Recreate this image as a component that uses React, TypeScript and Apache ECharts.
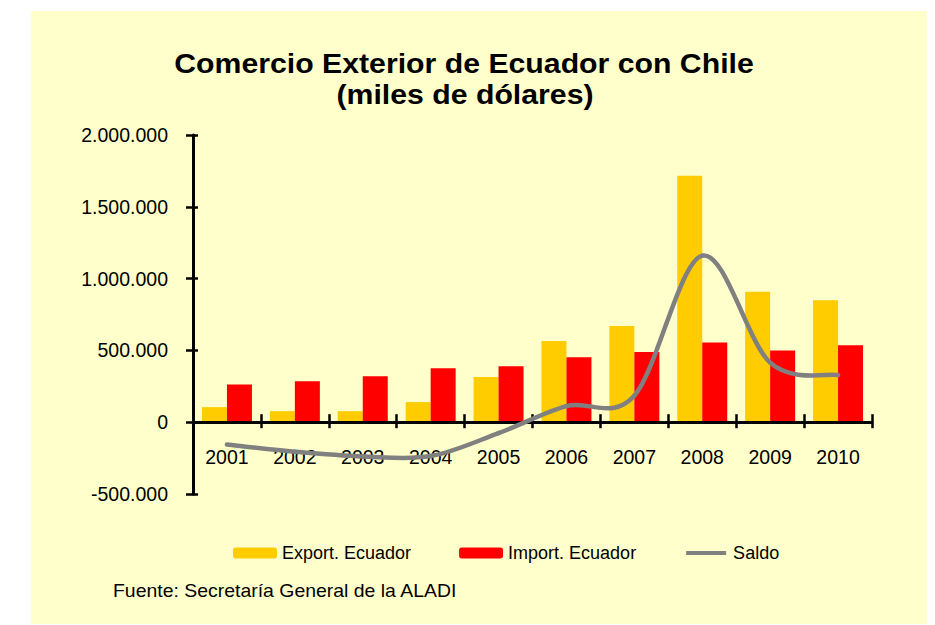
import React, { useEffect, useRef } from "react";
import * as echarts from "echarts";

const years = ["2001", "2002", "2003", "2004", "2005", "2006", "2007", "2008", "2009", "2010"];
const exportValues = [105000, 77000, 77000, 140000, 314000, 565000, 670000, 1716000, 908000, 850000];
const importValues = [263000, 286000, 320000, 376000, 390000, 453000, 488000, 555000, 500000, 535000];
const saldoValues = [-155000, -205000, -238000, -236000, -76000, 112000, 185000, 1160000, 415000, 328000];
const yMin = -500000;
const yMax = 2000000;
const yInterval = 500000;
const seriesNames = ["Export. Ecuador", "Import. Ecuador", "Saldo"];
const titleLines = ["Comercio Exterior de Ecuador con Chile", "(miles de dólares)"];
const sourceText = "Fuente: Secretaría General de la ALADI";

const FONT = '"Liberation Sans", Arial, sans-serif';

function fmt(v: number): string {
  const s = Math.abs(v).toString().replace(/\B(?=(\d{3})+(?!\d))/g, ".");
  return (v < 0 ? "-" : "") + s;
}

export default function App() {
  const ref = useRef<HTMLDivElement>(null);
  useEffect(() => {
    document.body.style.margin = "0";
    if (!ref.current) return;
    const chart = echarts.init(ref.current, undefined, { renderer: "svg" });
    const axisColor = "#000000";
    const n = saldoValues.length;
    const gridLeft = 193;
    const gridRight = 63;
    const gridTop = 135;
    const gridBottom = 131;
    // the category axis lives in a second grid whose bottom edge sits on the zero line
    const plotH = 625 - gridTop - gridBottom;
    const zeroBottom = gridBottom + (plotH * (0 - yMin)) / (yMax - yMin);

    chart.setOption({
      animation: false,
      backgroundColor: "#ffffff",
      textStyle: { fontFamily: FONT },
      graphic: [
        {
          type: "rect",
          z: -10,
          silent: true,
          shape: { x: 31, y: 11, width: 896, height: 613 },
          style: { fill: "#FFFFCC" },
        },
        {
          type: "text",
          x: 464,
          y: 64,
          scaleX: 1.12,
          style: {
            text: titleLines[0],
            font: `bold 27px ${FONT}`,
            fill: "#000",
            textAlign: "center",
            textVerticalAlign: "middle",
          },
        },
        {
          type: "text",
          x: 465,
          y: 95,
          scaleX: 1.12,
          style: {
            text: titleLines[1],
            font: `bold 27px ${FONT}`,
            fill: "#000",
            textAlign: "center",
            textVerticalAlign: "middle",
          },
        },
        {
          type: "text",
          x: 113,
          y: 591,
          scaleX: 1.08,
          style: {
            text: sourceText,
            font: `18px ${FONT}`,
            fill: "#000",
            textAlign: "left",
            textVerticalAlign: "middle",
          },
        },
      ],
      legend: {
        left: 233,
        top: 544,
        padding: 0,
        itemWidth: 44,
        itemHeight: 11,
        itemGap: 48,
        textStyle: { fontSize: 18, color: "#000", fontFamily: FONT },
        data: [
          { name: seriesNames[0] },
          { name: seriesNames[1] },
          {
            name: seriesNames[2],
            icon: "path://M0,0M44,11M2,3.5L42,3.5L42,7.5L2,7.5Z",
            itemStyle: { color: "#808080" },
          },
        ],
      },
      grid: [
        { left: gridLeft, right: gridRight, top: gridTop, bottom: gridBottom, containLabel: false },
        { left: gridLeft, right: gridRight, top: gridTop, bottom: zeroBottom, containLabel: false },
      ],
      xAxis: [
        {
          type: "category",
          gridIndex: 0,
          data: years,
          show: false,
        },
        {
          type: "category",
          gridIndex: 1,
          data: years,
          position: "bottom",
          z: 4,
          axisLine: { onZero: false, lineStyle: { color: axisColor, width: 3 } },
          axisTick: { show: true, length: 6, lineStyle: { color: axisColor, width: 2.5 } },
          axisLabel: { margin: 25, fontSize: 19.5, color: "#000", fontFamily: FONT },
          splitLine: { show: false },
        },
        {
          type: "category",
          gridIndex: 1,
          data: years,
          position: "bottom",
          z: 4,
          axisLine: { onZero: false, show: false },
          axisTick: { show: true, inside: true, length: 8, lineStyle: { color: axisColor, width: 2.5 } },
          axisLabel: { show: false },
          splitLine: { show: false },
        },
      ],
      yAxis: [
        {
          type: "value",
          gridIndex: 0,
          min: yMin,
          max: yMax,
          interval: yInterval,
          z: 4,
          axisLine: { show: true, lineStyle: { color: axisColor, width: 3 } },
          axisTick: { show: true, length: 7, lineStyle: { color: axisColor, width: 2.5 } },
          axisLabel: { margin: 25, fontSize: 19.5, color: "#000", fontFamily: FONT, formatter: fmt },
          splitLine: { show: false },
        },
        {
          type: "value",
          gridIndex: 0,
          min: yMin,
          max: yMax,
          interval: yInterval,
          position: "left",
          z: 4,
          axisLine: { show: false },
          axisTick: { show: true, inside: true, length: 5, lineStyle: { color: axisColor, width: 2.5 } },
          axisLabel: { show: false },
          splitLine: { show: false },
        },
        {
          type: "value",
          gridIndex: 1,
          min: 0,
          max: yMax,
          show: false,
        },
      ],
      series: [
        {
          name: seriesNames[0],
          type: "bar",
          xAxisIndex: 0,
          yAxisIndex: 0,
          data: exportValues,
          barWidth: 25,
          barGap: "0%",
          itemStyle: { color: "#FFCC00" },
          z: 2,
        },
        {
          name: seriesNames[1],
          type: "bar",
          xAxisIndex: 0,
          yAxisIndex: 0,
          data: importValues,
          barWidth: 25,
          barGap: "0%",
          itemStyle: { color: "#FF0000" },
          z: 2,
        },
        {
          name: seriesNames[2],
          type: "custom",
          xAxisIndex: 0,
          yAxisIndex: 0,
          data: saldoValues.map((v, i) => [i, v]),
          encode: { x: 0, y: 1 },
          itemStyle: { color: "#808080" },
          z: 6,
          renderItem: (params: any, api: any) => {
            const i = params.dataIndex;
            if (i >= n - 1) return null;
            const p = (k: number) => {
              const kk = Math.max(0, Math.min(n - 1, k));
              return api.coord([kk, saldoValues[kk]]);
            };
            const p0 = p(i - 1);
            const p1 = p(i);
            const p2 = p(i + 1);
            const p3 = p(i + 2);
            return {
              type: "bezierCurve",
              shape: {
                x1: p1[0],
                y1: p1[1],
                x2: p2[0],
                y2: p2[1],
                cpx1: p1[0] + (p2[0] - p0[0]) / 6,
                cpy1: p1[1] + (p2[1] - p0[1]) / 6,
                cpx2: p2[0] - (p3[0] - p1[0]) / 6,
                cpy2: p2[1] - (p3[1] - p1[1]) / 6,
              },
              style: { stroke: "#808080", lineWidth: 4.5, fill: null, lineCap: "round" },
            };
          },
        },
      ],
    });
    return () => chart.dispose();
  }, []);
  return <div ref={ref} style={{ width: 935, height: 625 }} />;
}
